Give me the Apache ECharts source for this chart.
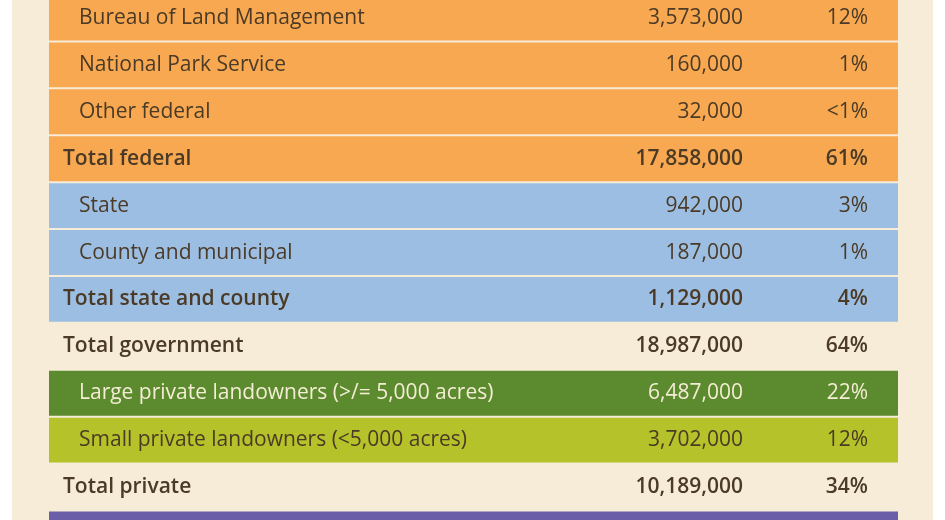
<!DOCTYPE html>
<html><head><meta charset="utf-8">
<script src="https://cdn.jsdelivr.net/npm/echarts@6/dist/echarts.min.js"></script>
<style>html,body{margin:0;padding:0;background:#fff}#c{width:945px;height:520px}</style>
</head><body><div id="c"></div>
<script>
const labels = ["Bureau of Land Management","National Park Service","Other federal","Total federal","State","County and municipal","Total state and county","Total government","Large private landowners (>/= 5,000 acres)","Small private landowners (<5,000 acres)","Total private",""];
const acres = ["3,573,000","160,000","32,000","17,858,000","942,000","187,000","1,129,000","18,987,000","6,487,000","3,702,000","10,189,000",""];
const shares = ["12%","1%","<1%","61%","3%","1%","4%","64%","22%","12%","34%",""];
const groups = ["federal","federal","federal","federal","state","state","state","none","large","small","none","purple"];
const isTotal = [false,false,false,true,false,false,true,true,false,false,true,false];

const fills = {federal:"#f7a851",state:"#9dbee3",none:"transparent",large:"#5b8b2e",small:"#b5c22a",purple:"#6a5ea8"};
const data = labels.map((l,i)=>[i]);
const chart = echarts.init(document.getElementById('c'));
chart.setOption({
  animation:false,
  graphic:[{type:'rect',z:-10,shape:{x:12,y:0,width:921,height:520},style:{fill:'#f6ecd7'}}],
  grid:{left:49,right:47,top:0,bottom:0},
  xAxis:{type:'value',min:0,max:1,show:false},
  yAxis:{type:'value',inverse:true,min:-0.384,max:10.703,show:false},
  series:[{type:'custom',data:data,clip:false,renderItem:(params,api)=>{
    const i=api.value(0);
    const p0=api.coord([0,i-0.5]), p1=api.coord([1,i+0.5]), pc=api.coord([0,i]);
    const g=groups[i];
    const txtCol = g==='large' ? '#f4ecd4' : '#4a3a26';
    const font = (isTotal[i]?'600 ':'normal ')+'21px "Open Sans", sans-serif';
    const lx = isTotal[i]? p0[0]+14 : p0[0]+30;
    const children=[{type:'rect',shape:{x:p0[0],y:p0[1]+1,width:p1[0]-p0[0],height:p1[1]-p0[1]-2},style:{fill:fills[g]}},
      {type:'text',style:{text:labels[i],x:lx,y:pc[1],textVerticalAlign:'middle',font:font,fill:txtCol}},
      {type:'text',style:{text:acres[i],x:743,y:pc[1],textAlign:'right',textVerticalAlign:'middle',font:font,fill:txtCol}},
      {type:'text',style:{text:shares[i],x:868,y:pc[1],textAlign:'right',textVerticalAlign:'middle',font:font,fill:txtCol}}];
    return {type:'group',children:children};
  }}]
});
</script></body></html>
